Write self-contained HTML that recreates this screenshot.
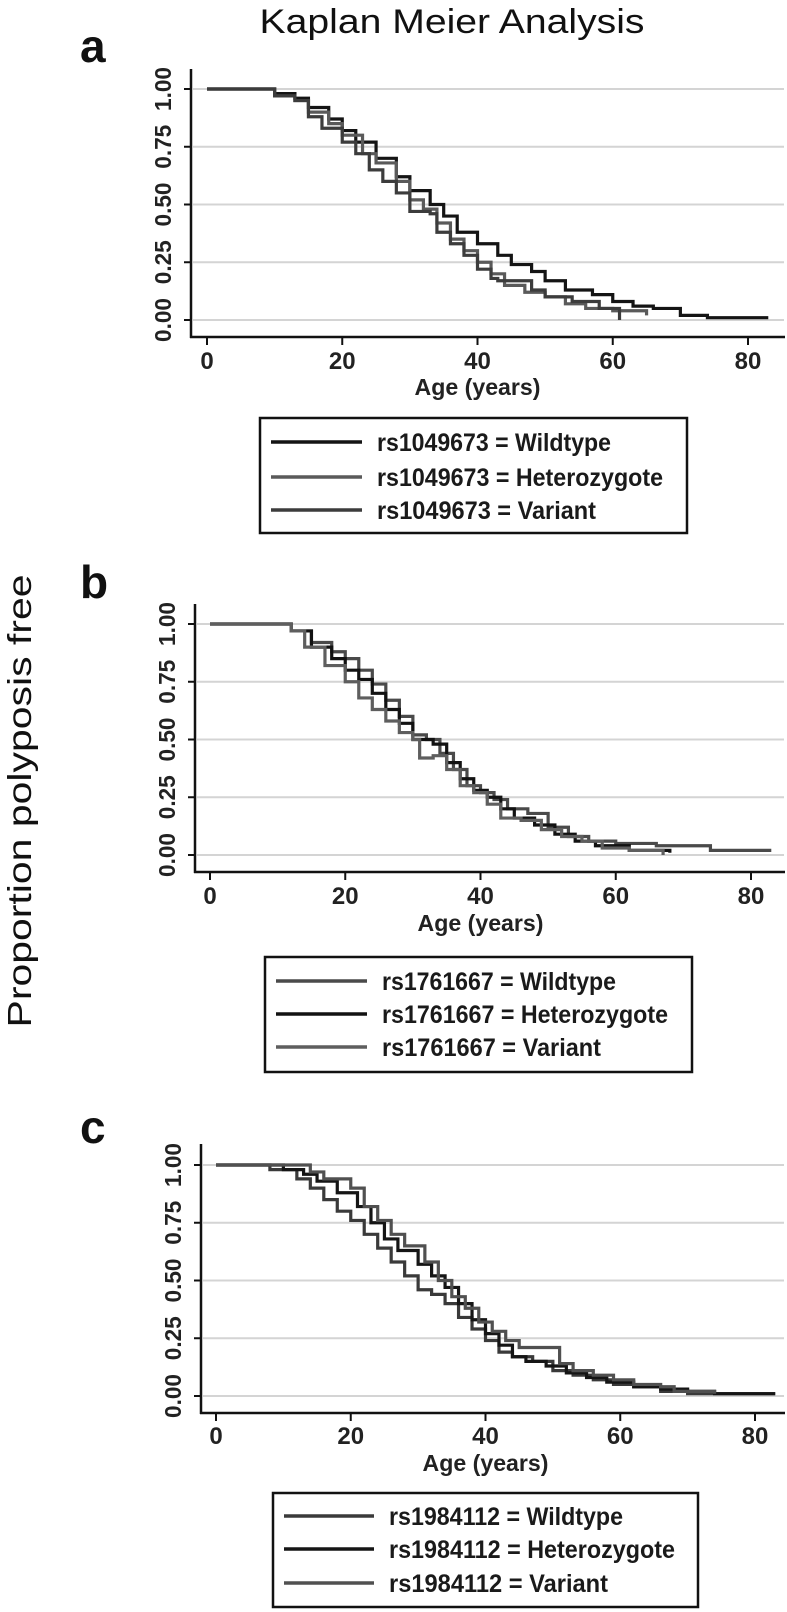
<!DOCTYPE html>
<html><head><meta charset="utf-8"><style>
html,body{margin:0;padding:0;background:#fff;}
svg{display:block;}
text{font-family:"Liberation Sans",sans-serif;}
</style></head><body>
<svg id="fig" width="787" height="1612" viewBox="0 0 787 1612" xmlns="http://www.w3.org/2000/svg">
<text x="452" y="33" font-size="34" text-anchor="middle" textLength="385" lengthAdjust="spacingAndGlyphs" fill="#111">Kaplan Meier Analysis</text>
<text x="20" y="801" font-size="33" text-anchor="middle" transform="rotate(-90 20 801)" dy="11" textLength="453" lengthAdjust="spacingAndGlyphs" fill="#111">Proportion polyposis free</text>
</svg>
<script>
// Panel a data
const aWAge=[0,5,10,13,15,18,20,22,25,28,30,33,35,37,40,43,45,48,50,53,57,60,63,66,70,74,83];
const aWSurv=[1,1,0.98,0.96,0.92,0.87,0.82,0.77,0.7,0.62,0.56,0.5,0.45,0.38,0.33,0.28,0.24,0.21,0.17,0.13,0.11,0.08,0.06,0.05,0.02,0.01,0.01];
const aHAge=[0,10,13,15,18,20,23,25,28,30,32,34,36,38,40,42,44,47,50,53,56,60,65];
const aHSurv=[1,0.97,0.95,0.9,0.85,0.8,0.72,0.68,0.6,0.52,0.48,0.42,0.35,0.3,0.25,0.2,0.15,0.12,0.1,0.07,0.05,0.04,0.02];
const aVAge=[0,10,13,15,17,20,22,24,26,28,30,33,34,36,38,40,42,43,48,50,54,58,61];
const aVSurv=[1,0.97,0.95,0.88,0.83,0.77,0.72,0.65,0.6,0.55,0.47,0.46,0.38,0.33,0.28,0.22,0.18,0.17,0.13,0.1,0.08,0.05,0.0];
// Panel b data
const bWAge=[0,12,15,18,20,22,24,26,28,30,32,34,36,38,40,42,44,47,50,53,56,60,66,74,83];
const bWSurv=[1,0.97,0.92,0.88,0.85,0.8,0.74,0.67,0.6,0.52,0.5,0.44,0.37,0.3,0.27,0.24,0.2,0.18,0.12,0.08,0.06,0.05,0.04,0.02,0.02];
const bHAge=[0,12,15,18,20,22,24,26,28,30,33,35,37,39,41,43,45,48,51,54,57,62,68];
const bHSurv=[1,0.97,0.9,0.85,0.8,0.76,0.7,0.63,0.57,0.5,0.48,0.4,0.33,0.28,0.25,0.2,0.16,0.13,0.09,0.06,0.04,0.02,0.01];
const bVAge=[0,12,14,17,20,22,24,26,28,30,31,33,35,37,39,41,43,46,49,52,55,58,62,67];
const bVSurv=[1,0.97,0.9,0.82,0.75,0.68,0.63,0.58,0.53,0.5,0.42,0.43,0.37,0.3,0.27,0.22,0.16,0.15,0.11,0.08,0.06,0.03,0.02,0.0];
// Panel c data
const cWAge=[0,8,12,14,16,18,20,22,24,26,28,30,32,34,36,38,40,42,44,47,50,53,56,59,62,66,70,83];
const cWSurv=[1,0.98,0.94,0.9,0.85,0.8,0.76,0.7,0.64,0.58,0.52,0.46,0.44,0.4,0.34,0.29,0.24,0.19,0.17,0.15,0.11,0.09,0.07,0.05,0.04,0.02,0.01,0.01];
const cHAge=[0,10,13,15,18,21,23,25,27,30,32,34,36,38,40,42,44,46,49,52,55,58,62,66,70,74,83];
const cHSurv=[1,0.98,0.96,0.93,0.88,0.82,0.75,0.68,0.63,0.57,0.52,0.47,0.4,0.33,0.27,0.22,0.17,0.15,0.13,0.1,0.08,0.06,0.04,0.03,0.02,0.01,0.01];
const cVAge=[0,13,14,16,20,22,24,26,28,31,33,35,37,39,41,43,45,51,53,56,59,62,66,68,74];
const cVSurv=[1,1,0.97,0.94,0.9,0.82,0.76,0.7,0.65,0.58,0.5,0.43,0.38,0.32,0.28,0.24,0.21,0.14,0.11,0.09,0.07,0.05,0.04,0.02,0.01];

const yTicks=[0,0.25,0.5,0.75,1];
const yTickLabels=["0.00","0.25","0.50","0.75","1.00"];
const xTicks=[0,20,40,60,80];
const xTickLabels=["0","20","40","60","80"];
const seriesNames=["Wildtype","Heterozygote","Variant"];

const NS="http://www.w3.org/2000/svg";
const svg=document.getElementById('fig');
function mk(tag,attrs,parent){const e=document.createElementNS(NS,tag);for(const k in attrs)e.setAttribute(k,attrs[k]);(parent||svg).appendChild(e);return e;}
const legLens=[234,286,219];

const panels=[
 {id:'a',letter:'a',letterX:80,letterY:62,axX:191,axTop:69,y1:89,y0:320,xAxY:337,x0:207,x80:748,tickLblY:369,ageY:395,
  leg:{x:260,y:418,w:427,h:115,rows:[442,477,510],lx1:271,lx2:362,tx:377},snp:'rs1049673',
  series:[[aWAge,aWSurv,'#141414'],[aHAge,aHSurv,'#5a5a5a'],[aVAge,aVSurv,'#3c3c3c']]},
 {id:'b',letter:'b',letterX:80,letterY:598,axX:195,axTop:604,y1:624,y0:855,xAxY:872,x0:210,x80:751,tickLblY:904,ageY:931,
  leg:{x:265,y:957,w:427,h:115,rows:[981,1014,1047],lx1:276,lx2:367,tx:382},snp:'rs1761667',
  series:[[bWAge,bWSurv,'#4a4a4a'],[bHAge,bHSurv,'#121212'],[bVAge,bVSurv,'#5e5e5e']]},
 {id:'c',letter:'c',letterX:80,letterY:1143,axX:201,axTop:1144,y1:1165,y0:1396,xAxY:1413,x0:216,x80:755,tickLblY:1444,ageY:1471,
  leg:{x:273,y:1493,w:425,h:114,rows:[1516,1549,1583],lx1:284,lx2:374,tx:389},snp:'rs1984112',
  series:[[cWAge,cWSurv,'#3a3a3a'],[cHAge,cHSurv,'#151515'],[cVAge,cVSurv,'#505050']]}
];

panels.forEach(p=>{
 const g=mk('g',{});
 
 
 const xs=a=>p.x0+(a/80)*(p.x80-p.x0);
 const ys=s=>p.y0+(p.y1-p.y0)*s;
 const lt=mk('text',{x:p.letterX,y:p.letterY,'font-size':46,'font-weight':'bold',fill:'#111'},g);
 lt.textContent=p.letter;
 
 
 yTicks.forEach((t,i)=>{
  const gl=mk('line',{x1:p.axX+2,x2:784,y1:ys(t),y2:ys(t),stroke:'#d4d4d4','stroke-width':2},g);
  
  
  mk('line',{x1:p.axX-7,x2:p.axX,y1:ys(t),y2:ys(t),stroke:'#111','stroke-width':2},g);
  const tl=mk('text',{x:0,y:0,'font-size':23,'font-weight':'bold','text-anchor':'middle',fill:'#222',transform:`translate(${p.axX-20},${ys(t)}) rotate(-90)`,textLength:44,lengthAdjust:'spacingAndGlyphs'},g);
  tl.textContent=yTickLabels[i];
  
  
 });
 const ya=mk('line',{x1:p.axX,x2:p.axX,y1:p.axTop,y2:p.xAxY+1,stroke:'#111','stroke-width':2.5},g);
 
 
 const xa=mk('line',{x1:p.axX-1,x2:785,y1:p.xAxY,y2:p.xAxY,stroke:'#111','stroke-width':2.5},g);
 
 
 xTicks.forEach((t,i)=>{
  mk('line',{x1:xs(t),x2:xs(t),y1:p.xAxY,y2:p.xAxY+8,stroke:'#111','stroke-width':2},g);
  const tl=mk('text',{x:xs(t),y:p.tickLblY,'font-size':24,'font-weight':'bold','text-anchor':'middle',fill:'#222'},g);
  tl.textContent=xTickLabels[i];
  
  
 });
 const ag=mk('text',{x:(p.x0+p.x80)/2,y:p.ageY,'font-size':23,'font-weight':'bold','text-anchor':'middle',fill:'#222',textLength:126,lengthAdjust:'spacingAndGlyphs'},g);
 ag.textContent='Age (years)';
 
 
 p.series.forEach((s,si)=>{
  const [ages,surv,col]=s;
  let d=`M${xs(ages[0])},${ys(surv[0])}`;
  for(let i=1;i<ages.length;i++){d+=` H${xs(ages[i])} V${ys(surv[i])}`;}
  const path=mk('path',{d:d,fill:'none',stroke:col,'stroke-width':3.2,'stroke-linejoin':'miter'},g);
  
  
 });
 const L=p.leg;
 const lg=mk('g',{},g);
 
 
 mk('rect',{x:L.x,y:L.y,width:L.w,height:L.h,fill:'#fff',stroke:'#111','stroke-width':2.5},lg);
 L.rows.forEach((ry,i)=>{
  const e=mk('g',{},lg);
  
  
  mk('line',{x1:L.lx1,x2:L.lx2,y1:ry,y2:ry,stroke:p.series[i][2],'stroke-width':3.5},e);
  const t=mk('text',{x:L.tx,y:ry+9,'font-size':25,'font-weight':'bold',fill:'#1a1a1a',textLength:legLens[i],lengthAdjust:'spacingAndGlyphs'},e);
  t.textContent=p.snp+' = '+seriesNames[i];
 });
});
</script>
</body></html>
